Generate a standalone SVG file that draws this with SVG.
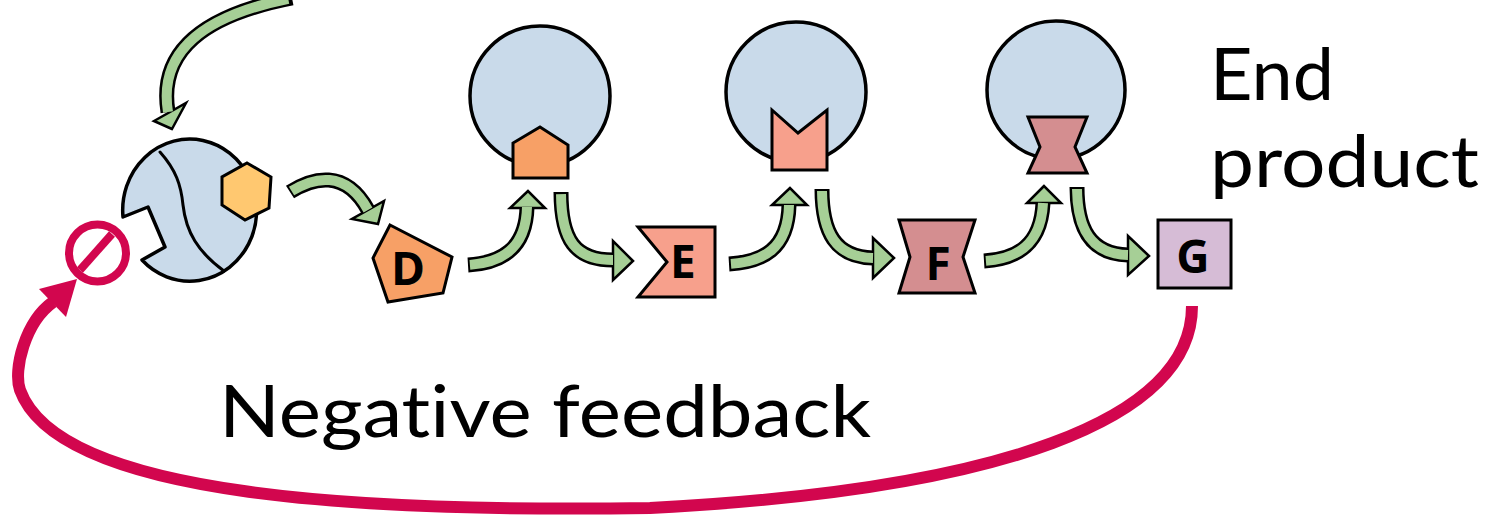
<svg xmlns="http://www.w3.org/2000/svg" width="1489" height="520" viewBox="0 0 1489 520">
  <style>
    .enz { fill: #C9DAEA; stroke: #000; stroke-width: 3.5; stroke-linejoin: round; }
    .line { fill: none; stroke: #000; stroke-width: 3; stroke-linecap: round; }
    .sub { stroke: #000; stroke-width: 3; stroke-linejoin: miter; }
    .d { fill: #F7A066; }
    .hex { fill: #FFC870; }
    .e { fill: #F7A08C; }
    .f { fill: #D48E90; }
    .g { fill: #D6BCD6; }
    .lbl { font-family: "Open Sans", "Liberation Sans", sans-serif; font-weight: 700; font-size: 46px; fill: #000; text-anchor: middle; }
    .big { font-family: Lato, "Open Sans", "Liberation Sans", sans-serif; font-weight: 400; font-size: 72px; fill: #000; font-variant-ligatures: none; font-feature-settings: "liga" 0, "dlig" 0; }
    .shaft-o { fill: none; stroke: #000; stroke-width: 15; stroke-linecap: butt; }
    .shaft-i { fill: none; stroke: #A6CF96; stroke-width: 10; stroke-linecap: butt; stroke-dasharray: 0 2 100; }
    .head { fill: #A6CF96; stroke: #000; stroke-width: 2.5; stroke-linejoin: miter; }
    .fb { fill: none; stroke: #D2064E; stroke-width: 12; stroke-linecap: butt; }
    .fb-head { fill: #D2064E; }
  </style>
  <defs>
    <!-- centre lines of the green reaction arrows -->
    <path id="s1" pathLength="100" d="M292,-2 C205,15 158,50 168,112"/>
    <path id="s2" pathLength="100" d="M290,192 C312,178 345,168 368,210"/>
    <path id="s3" pathLength="100" d="M468,265 C500,263 526,250 527,207"/>
    <path id="s4" pathLength="100" d="M561,192 C561,240 575,260 613,260"/>
    <path id="s5" pathLength="100" d="M729,264 C762,262 788,250 789,205"/>
    <path id="s6" pathLength="100" d="M822,189 C822,232 835,257 873,258"/>
    <path id="s7" pathLength="100" d="M984,261 C1016,259 1041,246 1043,203"/>
    <path id="s8" pathLength="100" d="M1077,187 C1077,228 1090,254 1128,255"/>
  </defs>

  <!-- first enzyme of the pathway, with allosteric site holding the end product -->
  <g id="enzyme1">
    <path class="enz" d="M123,217 L148,207 L165,247 L142,260 A67,71 0 1 0 123,217 Z"/>
    <path class="line" d="M160,152 C176,170 181,185 183,205 C186,232 198,252 224,271"/>
    <polygon class="sub hex" points="247,163 271,177 269,208 245,220 222,205 222,177"/>
  </g>

  <!-- second enzyme with bound substrate D -->
  <g id="enzyme2">
    <circle class="enz" cx="540" cy="96" r="70"/>
    <polygon class="sub d" points="540,127 568,145 568,178 513,178 513,143"/>
  </g>

  <!-- third enzyme with bound substrate E -->
  <g id="enzyme3">
    <circle class="enz" cx="796" cy="92" r="70"/>
    <polygon class="sub e" points="772,110 798,133 827,110 827,170 772,170"/>
  </g>

  <!-- fourth enzyme with bound substrate F -->
  <g id="enzyme4">
    <circle class="enz" cx="1056" cy="90" r="69"/>
    <polygon class="sub f" points="1028,117 1087,117 1075,147 1087,173 1028,173 1040,147"/>
  </g>

  <!-- intermediates -->
  <g id="D">
    <polygon class="sub d" points="390,225 452,257 443,293 388,302 373,258"/>
    <text class="lbl" x="408" y="285">D</text>
  </g>
  <g id="E">
    <polygon class="sub e" points="638,227 715,227 715,297 638,297 667,262"/>
    <text class="lbl" x="683" y="278">E</text>
  </g>
  <g id="F">
    <polygon class="sub f" points="899,220 975,220 963,257 975,293 899,293 910,257"/>
    <text class="lbl" x="938" y="280">F</text>
  </g>
  <g id="G">
    <rect class="sub g" x="1158" y="220" width="73" height="68"/>
    <text class="lbl" x="1193" y="273">G</text>
  </g>

  <!-- captions -->
  <g id="end-product">
    <text class="big" x="1210" y="100" textLength="124" lengthAdjust="spacingAndGlyphs">End</text>
    <text class="big" x="1210" y="187" textLength="269" lengthAdjust="spacingAndGlyphs">product</text>
  </g>
  <g id="negative-feedback">
    <text class="big" x="219" y="437" font-size="73" textLength="652" lengthAdjust="spacingAndGlyphs">Negative feedback</text>
  </g>

  <g id="connectors">
    <!-- green reaction arrows: outline, head, then fill -->
    <g id="arrow1">
      <use href="#s1" class="shaft-o"/>
      <polygon class="head" points="172,129 154,121 186,103"/>
      <use href="#s1" class="shaft-i"/>
    </g>
    <g id="arrow2">
      <use href="#s2" class="shaft-o"/>
      <polygon class="head" points="378,224 352,219 384,201"/>
      <use href="#s2" class="shaft-i"/>
    </g>
    <g id="arrow3">
      <use href="#s3" class="shaft-o"/>
      <polygon class="head" points="528,191 510,208 545,208"/>
      <use href="#s3" class="shaft-i"/>
    </g>
    <g id="arrow4">
      <use href="#s4" class="shaft-o"/>
      <polygon class="head" points="633,261 613,241 613,280"/>
      <use href="#s4" class="shaft-i"/>
    </g>
    <g id="arrow5">
      <use href="#s5" class="shaft-o"/>
      <polygon class="head" points="790,188 772,205 807,205"/>
      <use href="#s5" class="shaft-i"/>
    </g>
    <g id="arrow6">
      <use href="#s6" class="shaft-o"/>
      <polygon class="head" points="894,258 873,238 873,278"/>
      <use href="#s6" class="shaft-i"/>
    </g>
    <g id="arrow7">
      <use href="#s7" class="shaft-o"/>
      <polygon class="head" points="1044,186 1027,203 1061,203"/>
      <use href="#s7" class="shaft-i"/>
    </g>
    <g id="arrow8">
      <use href="#s8" class="shaft-o"/>
      <polygon class="head" points="1149,256 1128,236 1128,275"/>
      <use href="#s8" class="shaft-i"/>
    </g>

    <!-- feedback loop from G back to the first enzyme -->
    <g id="feedback">
      <path class="fb" d="M1192,306 C1192,420 1000,490 650,508 C380,512 60,500 20,390 C13,370 25,322 53,302"/>
      <polygon class="fb-head" points="77,279 39,289 66,317"/>
      <!-- inhibition sign -->
      <circle cx="97.5" cy="253" r="28.5" fill="none" stroke="#D2064E" stroke-width="8"/>
      <line x1="112" y1="234" x2="80" y2="270" stroke="#D2064E" stroke-width="8"/>
    </g>
  </g>
</svg>
